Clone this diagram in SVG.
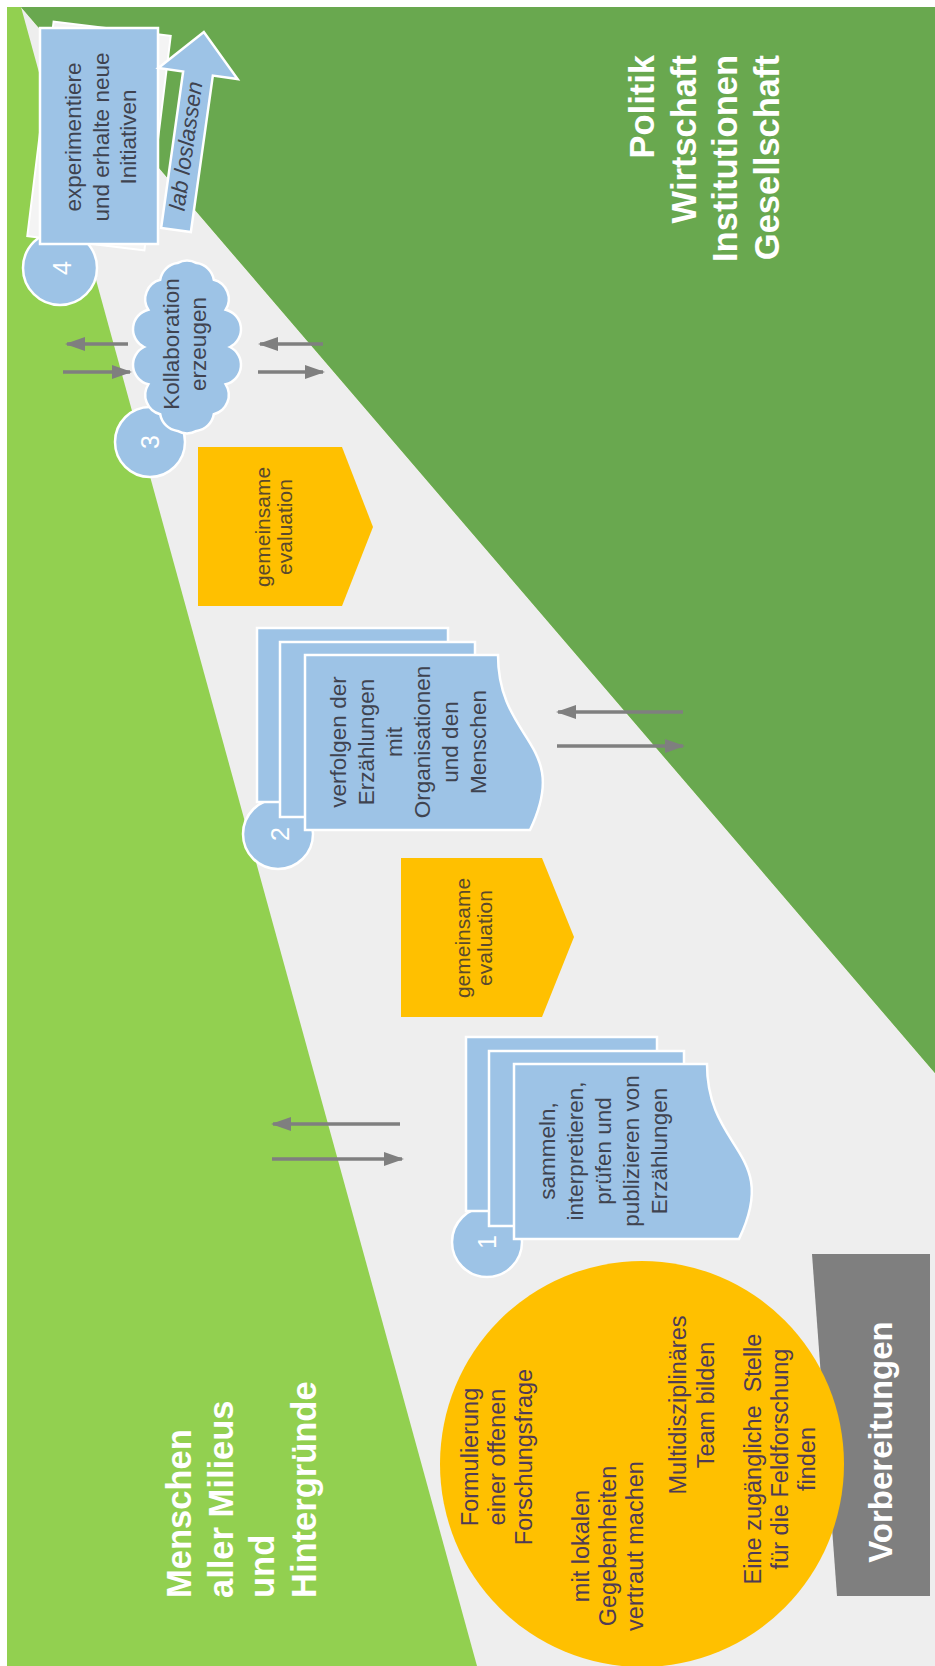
<svg xmlns="http://www.w3.org/2000/svg" width="935" height="1666" viewBox="0 0 935 1666">
<defs>
<style>
.blue{fill:#9dc3e6;stroke:#ffffff;stroke-width:2.5}
.orange{fill:#ffc000}
.tb{font-family:"Liberation Sans",Arial,sans-serif;font-size:22.5px;fill:#3f4350}
.to{font-family:"Liberation Sans",Arial,sans-serif;font-size:21px;fill:#5b4a2c}
.te{font-family:"Liberation Sans",Arial,sans-serif;font-size:23.5px;fill:#4f3b55}
.tw{font-family:"Liberation Sans",Arial,sans-serif;font-weight:bold;fill:#ffffff}
.num{font-family:"Liberation Sans",Arial,sans-serif;font-size:25px;fill:#ffffff}
.conn{stroke:#7f7f7f;stroke-width:3.5;fill:none;marker-end:url(#ah)}
</style>
<marker id="ah" markerUnits="userSpaceOnUse" markerWidth="20" markerHeight="14" refX="18" refY="7" orient="auto">
<path d="M0,0 L20,7 L0,14 Z" fill="#7f7f7f"/>
</marker>
</defs>

<g id="background">
<rect x="0" y="0" width="935" height="1666" fill="#ffffff"/>
<rect x="7" y="7" width="928" height="1659" fill="#92d050"/>
<polygon points="21,7 935,1073 935,1666 477,1666" fill="#eeeeee"/>
<polygon points="21,7 935,7 935,1073" fill="#69a84f"/>
</g>

<g id="label-politik">
<text class="tw" font-size="34.5" transform="translate(642,55) rotate(-90)" text-anchor="end" dominant-baseline="central"><tspan x="0" y="0">Politik</tspan><tspan x="0" dy="41.7">Wirtschaft</tspan><tspan x="0" dy="41.7">Institutionen</tspan><tspan x="0" dy="41.7">Gesellschaft</tspan></text>
</g>

<g id="label-menschen">
<text class="tw" font-size="34.5" transform="translate(179,1598) rotate(-90)" text-anchor="start" dominant-baseline="central"><tspan x="0" y="0">Menschen</tspan><tspan x="0" dy="41.7">aller Milieus</tspan><tspan x="0" dy="41.7">und</tspan><tspan x="0" dy="41.7">Hintergründe</tspan></text>
</g>

<g id="connectors">
<line class="conn" x1="128" y1="344" x2="67" y2="344"/>
<line class="conn" x1="63" y1="372" x2="130" y2="372"/>
<line class="conn" x1="323" y1="344" x2="260" y2="344"/>
<line class="conn" x1="258" y1="372" x2="323" y2="372"/>
<line class="conn" x1="683" y1="712" x2="558" y2="712"/>
<line class="conn" x1="557" y1="746" x2="683" y2="746"/>
<line class="conn" x1="400" y1="1124" x2="273" y2="1124"/>
<line class="conn" x1="272" y1="1159" x2="402" y2="1159"/>
</g>

<g id="step4">
<circle class="blue" cx="60" cy="268" r="37"/>
<text class="num" transform="translate(62,268) rotate(-90)" text-anchor="middle" dominant-baseline="central">4</text>
<rect x="40" y="28" width="118" height="216" transform="rotate(7 99 136)" fill="#f4f4f4" stroke="#ffffff" stroke-width="2"/>
<rect class="blue" x="40" y="28" width="118" height="216"/>
<text class="tb" transform="translate(73,137) rotate(-90)" text-anchor="middle" dominant-baseline="central"><tspan x="0" y="0">experimentiere</tspan><tspan x="0" dy="27.5">und erhalte neue</tspan><tspan x="0" dy="27.5">Initiativen</tspan></text>
</g>

<g id="lab-loslassen">
<polygon class="blue" transform="translate(176,230) rotate(8)" points="-15,0 -15,-158 -40,-158 0,-200 40,-158 15,-158 15,0"/>
<text class="tb" font-style="italic" font-size="20" transform="translate(186,146) rotate(-82)" text-anchor="middle" dominant-baseline="central">lab loslassen</text>
</g>

<g id="step3">
<circle class="blue" cx="150" cy="442" r="35"/>
<text class="num" transform="translate(150,442) rotate(-90)" text-anchor="middle" dominant-baseline="central">3</text>
<path class="blue" d="M230,347 A20,20 0 0 1 225.7,384.3 A20,20 0 0 1 213.8,414.3 A20,20 0 0 1 196.6,430.9 A20,20 0 0 1 177.4,430.9 A20,20 0 0 1 160.2,414.3 A20,20 0 0 1 148.3,384.3 A20,20 0 0 1 144,347 A20,20 0 0 1 148.3,309.7 A20,20 0 0 1 160.2,279.7 A20,20 0 0 1 177.4,263.1 A20,20 0 0 1 196.6,263.1 A20,20 0 0 1 213.8,279.7 A20,20 0 0 1 225.7,309.7 A20,20 0 0 1 230,347 Z"/>
<text class="tb" transform="translate(171,344) rotate(-90)" text-anchor="middle" dominant-baseline="central"><tspan x="0" y="0">Kollaboration</tspan><tspan x="0" dy="27">erzeugen</tspan></text>
</g>

<g id="evaluation-2">
<polygon class="orange" points="198,447 342,447 373,527 342,606 198,606"/>
<text class="to" transform="translate(262,527) rotate(-90)" text-anchor="middle" dominant-baseline="central"><tspan x="0" y="0">gemeinsame</tspan><tspan x="0" dy="21.5">evaluation</tspan></text>
</g>

<g id="step2">
<circle class="blue" cx="278" cy="834" r="35"/>
<text class="num" transform="translate(280,834) rotate(-90)" text-anchor="middle" dominant-baseline="central">2</text>
<rect class="blue" x="257" y="628" width="191" height="174"/>
<rect class="blue" x="280" y="642" width="195" height="175"/>
<path class="blue" d="M305,655 L498,655 C498,742.5 572,742.5 530,830 L305,830 Z"/>
<text class="tb" transform="translate(338,742) rotate(-90)" text-anchor="middle" dominant-baseline="central"><tspan x="0" y="0">verfolgen der</tspan><tspan x="0" dy="28">Erzählungen</tspan><tspan x="0" dy="28">mit</tspan><tspan x="0" dy="28">Organisationen</tspan><tspan x="0" dy="28">und den</tspan><tspan x="0" dy="28">Menschen</tspan></text>
</g>

<g id="evaluation-1">
<polygon class="orange" points="401,858 542,858 574,937 542,1017 401,1017"/>
<text class="to" transform="translate(462,938) rotate(-90)" text-anchor="middle" dominant-baseline="central"><tspan x="0" y="0">gemeinsame</tspan><tspan x="0" dy="21.5">evaluation</tspan></text>
</g>

<g id="step1">
<circle class="blue" cx="487" cy="1242" r="35"/>
<text class="num" transform="translate(487,1242) rotate(-90)" text-anchor="middle" dominant-baseline="central">1</text>
<g transform="translate(209,409)">
<rect class="blue" x="257" y="628" width="191" height="174"/>
<rect class="blue" x="280" y="642" width="195" height="175"/>
<path class="blue" d="M305,655 L498,655 C498,742.5 572,742.5 530,830 L305,830 Z"/>
</g>
<text class="tb" transform="translate(547,1151) rotate(-90)" text-anchor="middle" dominant-baseline="central"><tspan x="0" y="0">sammeln,</tspan><tspan x="0" dy="28">interpretieren,</tspan><tspan x="0" dy="28">prüfen und</tspan><tspan x="0" dy="28">publizieren von</tspan><tspan x="0" dy="28">Erzählungen</tspan></text>
</g>

<g id="vorbereitungen">
<polygon points="812,1254 930,1254 930,1596 837,1596" fill="#7f7f7f"/>
<ellipse class="orange" cx="642" cy="1464" rx="202" ry="203"/>
<text class="te" transform="translate(470,1457) rotate(-90)" text-anchor="middle" dominant-baseline="central"><tspan x="0" y="0">Formulierung</tspan><tspan x="0" dy="27">einer offenen</tspan><tspan x="0" dy="27">Forschungsfrage</tspan></text>
<text class="te" transform="translate(581,1546) rotate(-90)" text-anchor="middle" dominant-baseline="central"><tspan x="0" y="0">mit lokalen</tspan><tspan x="0" dy="27">Gegebenheiten</tspan><tspan x="0" dy="27">vertraut machen</tspan></text>
<text class="te" transform="translate(678,1405) rotate(-90)" text-anchor="middle" dominant-baseline="central"><tspan x="0" y="0">Multidisziplinäres</tspan><tspan x="0" dy="28">Team bilden</tspan></text>
<text class="te" style="white-space:pre" transform="translate(753,1459) rotate(-90)" text-anchor="middle" dominant-baseline="central"><tspan x="0" y="0">Eine zugängliche  Stelle</tspan><tspan x="0" dy="27">für die Feldforschung</tspan><tspan x="0" dy="27">finden</tspan></text>
<text class="tw" font-size="33" transform="translate(880,1442) rotate(-90)" text-anchor="middle" dominant-baseline="central">Vorbereitungen</text>
</g>
</svg>
